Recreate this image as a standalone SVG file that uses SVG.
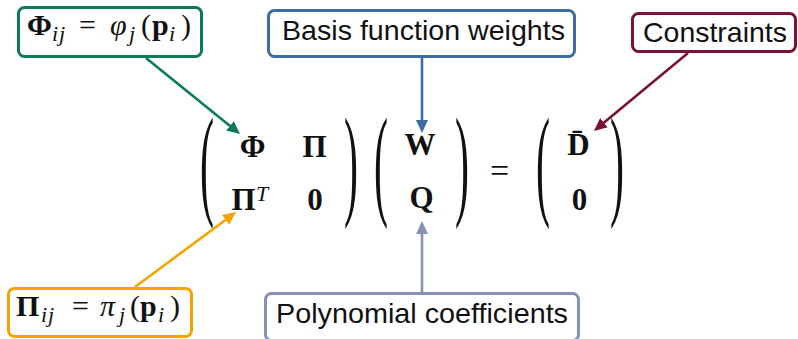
<svg xmlns="http://www.w3.org/2000/svg" width="798" height="339" viewBox="0 0 798 339">
<style>
.box{fill:#fff;stroke-width:3}
.lbl{font-family:"Liberation Sans",Arial,sans-serif;font-size:28px;fill:#111}
.m{font-family:"Liberation Serif","DejaVu Serif",serif;fill:#111}
.b{font-weight:bold;font-size:31px}
.lb{font-weight:bold;font-size:30px}
.n{font-size:30px}
.it{font-style:italic;font-size:30px}
.sub{font-style:italic;font-size:22px}
.par{font-family:"Liberation Serif","DejaVu Serif",serif;font-size:42px;fill:#111}
.ln{fill:none;stroke-width:2.6}
</style>
<defs>
<marker id="ag" markerUnits="userSpaceOnUse" markerWidth="14" markerHeight="12" refX="1" refY="6" orient="auto"><path d="M0,0 L13,6 L0,12 z" fill="#0b7a5c"/></marker>
<marker id="ab" markerUnits="userSpaceOnUse" markerWidth="14" markerHeight="12" refX="1" refY="6" orient="auto"><path d="M0,0 L13,6 L0,12 z" fill="#3d6ca3"/></marker>
<marker id="ar" markerUnits="userSpaceOnUse" markerWidth="14" markerHeight="12" refX="1" refY="6" orient="auto"><path d="M0,0 L13,6 L0,12 z" fill="#7a1232"/></marker>
<marker id="ao" markerUnits="userSpaceOnUse" markerWidth="14" markerHeight="12" refX="1" refY="6" orient="auto"><path d="M0,0 L13,6 L0,12 z" fill="#f5a300"/></marker>
<marker id="as" markerUnits="userSpaceOnUse" markerWidth="14" markerHeight="12" refX="1" refY="6" orient="auto"><path d="M0,0 L13,6 L0,12 z" fill="#8592b5"/></marker>
</defs>

<g id="matrix">
<text class="par" transform="translate(200,203) scale(1,2.93)">(</text>
<text class="par" transform="translate(344,203) scale(1,2.93)">)</text>
<text class="par" transform="translate(374,203) scale(1,2.93)">(</text>
<text class="par" transform="translate(455,203) scale(1,2.93)">)</text>
<text class="par" transform="translate(536,203) scale(1,2.93)">(</text>
<text class="par" transform="translate(610,203) scale(1,2.93)">)</text>
<text class="m b" x="252.5" y="157" text-anchor="middle">Φ</text>
<text class="m b" x="314.5" y="157" text-anchor="middle">Π</text>
<text class="m b" x="243.5" y="210" text-anchor="middle">Π</text>
<text class="m sub" x="256" y="201">T</text>
<text class="m b" x="315" y="210" text-anchor="middle">0</text>
<text class="m b" x="420" y="155" text-anchor="middle">W</text>
<text class="m b" x="421.5" y="208" text-anchor="middle">Q</text>
<text class="m" x="499.5" y="182" text-anchor="middle" style="font-size:34px">=</text>
<text class="m b" x="578.5" y="155" text-anchor="middle">D&#x0304;</text>
<text class="m b" x="579.5" y="210" text-anchor="middle">0</text>
</g>

<g id="connectors">
<line class="ln" stroke="#0b7a5c" x1="146" y1="58" x2="230.7" y2="126.4" marker-end="url(#ag)"/>
<line class="ln" stroke="#3d6ca3" x1="422" y1="58" x2="422" y2="121" marker-end="url(#ab)"/>
<line class="ln" stroke="#7a1232" x1="688" y1="53" x2="603.2" y2="123.3" marker-end="url(#ar)"/>
<line class="ln" stroke="#f5a300" x1="135" y1="287" x2="226.4" y2="219.2" marker-end="url(#ao)"/>
<line class="ln" stroke="#8592b5" x1="422" y1="292" x2="422" y2="233" marker-end="url(#as)"/>
</g>

<g id="phi-def">
<rect class="box" x="18.5" y="7.5" width="183" height="49" rx="6" stroke="#0b7a5c"/>
<text class="m lb" x="27" y="35">Φ</text>
<text class="m sub" x="52" y="41" style="letter-spacing:1px">ij</text>
<text class="m n" x="79" y="35">=</text>
<text class="m it" x="110" y="35">φ</text>
<text class="m sub" x="129" y="41">j</text>
<text class="m n" x="141" y="35">(</text>
<text class="m lb" x="152" y="35">p</text>
<text class="m sub" x="169" y="41">i</text>
<text class="m n" x="181" y="35">)</text>
</g>

<g id="basis-weights">
<rect class="box" x="268.5" y="10.5" width="306" height="46" rx="6" stroke="#3d6ca3"/>
<text class="lbl" x="282" y="40" textLength="283" lengthAdjust="spacingAndGlyphs">Basis function weights</text>
</g>

<g id="constraints">
<rect class="box" x="632.5" y="13.5" width="163" height="38" rx="6" stroke="#7a1232"/>
<text class="lbl" x="643" y="42" textLength="144" lengthAdjust="spacingAndGlyphs">Constraints</text>
</g>

<g id="pi-def">
<rect class="box" x="8.5" y="288.5" width="183" height="48" rx="6" stroke="#f5a300"/>
<text class="m lb" x="16" y="316">Π</text>
<text class="m sub" x="41" y="322" style="letter-spacing:1px">ij</text>
<text class="m n" x="72" y="316">=</text>
<text class="m it" x="100" y="316">π</text>
<text class="m sub" x="119" y="322">j</text>
<text class="m n" x="130" y="316">(</text>
<text class="m lb" x="140" y="316">p</text>
<text class="m sub" x="158" y="322">i</text>
<text class="m n" x="170" y="316">)</text>
</g>

<g id="poly-coeffs">
<rect class="box" x="265.5" y="293.5" width="313" height="47" rx="6" stroke="#8592b5"/>
<text class="lbl" x="276" y="323" textLength="292" lengthAdjust="spacingAndGlyphs">Polynomial coefficients</text>
</g>
</svg>
